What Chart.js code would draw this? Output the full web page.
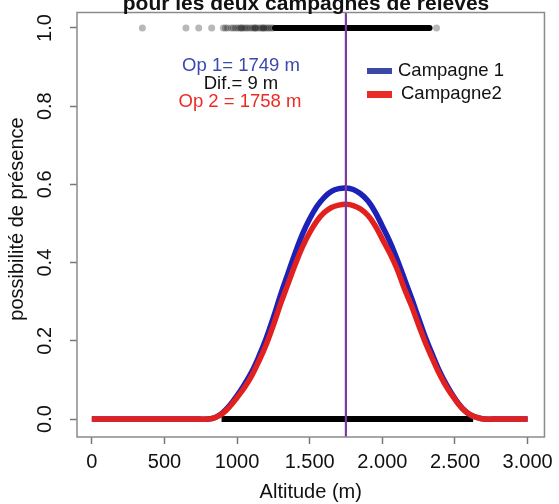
<!DOCTYPE html>
<html>
<head>
<meta charset="utf-8">
<script src="https://cdn.jsdelivr.net/npm/chart.js@4/dist/chart.umd.min.js"></script>
<style>
  body { margin: 0; background: #fff; }
  #wrap { width: 559px; height: 504px; }
</style>
</head>
<body>
<div id="wrap"><canvas id="c" width="559" height="504"></canvas></div>
<script>
// altitude grid for the two response curves (m)
const altitudes = [0, 700, 800, 850, 900, 950, 1000, 1050, 1100, 1150, 1200, 1250, 1300, 1350, 1400,
  1450, 1500, 1550, 1600, 1650, 1700, 1750, 1800, 1850, 1900, 1950, 2000, 2050, 2100,
  2150, 2200, 2250, 2300, 2350, 2400, 2450, 2500, 2550, 2600, 2650, 2700, 2800, 3000];
const campagne1 = [0, 0, 0, 0.004, 0.016, 0.035, 0.06, 0.088, 0.12, 0.16, 0.206, 0.26, 0.318, 0.372, 0.425,
  0.473, 0.512, 0.544, 0.567, 0.582, 0.589, 0.591, 0.587, 0.576, 0.558, 0.53, 0.493, 0.455, 0.41,
  0.36, 0.31, 0.257, 0.205, 0.16, 0.117, 0.082, 0.052, 0.028, 0.012, 0.004, 0, 0, 0];
const campagne2 = [0, 0, 0, 0.004, 0.014, 0.032, 0.055, 0.08, 0.11, 0.148, 0.19, 0.24, 0.295, 0.345, 0.395,
  0.44, 0.477, 0.507, 0.528, 0.541, 0.547, 0.549, 0.546, 0.537, 0.521, 0.495, 0.46, 0.425, 0.385,
  0.335, 0.29, 0.24, 0.192, 0.15, 0.11, 0.077, 0.05, 0.027, 0.012, 0.004, 0, 0, 0];

// observed presences (y = 1): scattered points and the dense run
const presenceDots = [348, 648, 736, 825, 905, 920, 935, 960, 975, 990, 1005, 1020, 1030, 1035, 1050,
  1062, 1075, 1090, 1105, 1118, 1125, 1130, 1145, 1160, 1172, 1180, 1185, 1198, 1210, 1222, 1235, 1248, 2373];
const presenceRun = [1261, 2325];
// observed absences (y = 0): dense run
const absenceRun = [893, 2625];

const optimum1 = 1749;
const optimum2 = 1758;

const xTickValues = [0, 500, 1000, 1500, 2000, 2500, 3000];
const xTickLabels = ["0", "500", "1000", "1.500", "2.000", "2.500", "3.000"];
const yTickValues = [0, 0.2, 0.4, 0.6, 0.8, 1.0];
const yTickLabels = ["0.0", "0.2", "0.4", "0.6", "0.8", "1.0"];

const FONT = "'Liberation Sans', Arial, sans-serif";

const extras = {
  id: "extras",
  afterDatasetsDraw(chart) {
    const { ctx, chartArea: a, scales: { x } } = chart;
    ctx.save();
    // optimum line
    ctx.beginPath();
    ctx.rect(a.left, a.top, a.right - a.left, a.bottom - a.top);
    ctx.clip();
    ctx.strokeStyle = "#7d3c9c";
    ctx.lineWidth = 2.2;
    const px = x.getPixelForValue(optimum1);
    ctx.beginPath();
    ctx.moveTo(px, a.top);
    ctx.lineTo(px, a.bottom);
    ctx.stroke();
    ctx.restore();
  },
  afterDraw(chart) {
    const { ctx, chartArea: a, scales: { y } } = chart;
    ctx.save();
    // box
    ctx.strokeStyle = "#8a8a8a";
    ctx.lineWidth = 1.5;
    ctx.strokeRect(a.left, a.top, a.right - a.left, a.bottom - a.top);

    // y tick labels, rotated
    ctx.fillStyle = "#111";
    ctx.font = "20px " + FONT;
    ctx.textAlign = "center";
    ctx.textBaseline = "middle";
    yTickValues.forEach((v, i) => {
      ctx.save();
      ctx.translate(45, y.getPixelForValue(v));
      ctx.rotate(-Math.PI / 2);
      ctx.fillText(yTickLabels[i], 0, 0);
      ctx.restore();
    });
    // y title
    ctx.save();
    ctx.translate(17, 219);
    ctx.rotate(-Math.PI / 2);
    ctx.font = "20px " + FONT;
    ctx.fillText("possibilité de présence", 0, 0);
    ctx.restore();

    // title, mostly cut off at the top
    ctx.font = "bold 21px " + FONT;
    ctx.textBaseline = "alphabetic";
    ctx.fillText("pour les deux campagnes de relevés", 306, 10);

    // optimum texts
    ctx.font = "18.5px " + FONT;
    ctx.textBaseline = "middle";
    ctx.fillStyle = "#3a48b0";
    ctx.fillText("Op 1= " + optimum1 + " m", 241, 66);
    ctx.fillStyle = "#111";
    ctx.fillText("Dif.= " + (optimum2 - optimum1) + " m", 241, 84);
    ctx.fillStyle = "#ee2a24";
    ctx.fillText("Op 2 = " + optimum2 + " m", 240, 101.5);

    // legend
    ctx.fillStyle = "#3a48a6";
    ctx.fillRect(367, 68, 25, 6);
    ctx.fillStyle = "#ea2b25";
    ctx.fillRect(367, 91, 25, 7);
    ctx.fillStyle = "#111";
    ctx.font = "18.5px " + FONT;
    ctx.textAlign = "left";
    ctx.fillText("Campagne 1", 398, 71);
    ctx.fillText("Campagne2", 401, 94);
    ctx.restore();
  }
};

new Chart(document.getElementById("c"), {
  type: "line",
  data: {
    datasets: [
      {
        label: "Campagne2",
        data: altitudes.map((a, i) => ({ x: a, y: campagne2[i] })),
        borderColor: "#e2201e",
        borderWidth: 5.5,
        pointRadius: 0,
        tension: 0.4,
        order: 0
      },
      {
        label: "Campagne 1",
        data: altitudes.map((a, i) => ({ x: a, y: campagne1[i] })),
        borderColor: "#1c22b8",
        borderWidth: 5.5,
        pointRadius: 0,
        tension: 0.4,
        order: 1
      },
      {
        label: "absences",
        data: absenceRun.map((a) => ({ x: a, y: 0 })),
        borderColor: "#000",
        borderWidth: 6,
        pointRadius: 0,
        order: 2
      },
      {
        label: "presences",
        data: presenceRun.map((a) => ({ x: a, y: 1 })),
        borderColor: "#000",
        borderWidth: 6,
        borderCapStyle: "round",
        pointRadius: 0,
        order: 3
      },
      {
        label: "presence points",
        data: presenceDots.map((a) => ({ x: a, y: 1 })),
        showLine: false,
        pointRadius: 3.5,
        pointBorderWidth: 0,
        pointBackgroundColor: "rgba(0,0,0,0.28)",
        order: 4
      }
    ]
  },
  options: {
    responsive: false,
    animation: false,
    layout: { padding: { left: 0, top: 12.5, right: 10, bottom: 0 } },
    plugins: { legend: { display: false }, tooltip: { enabled: false }, title: { display: false } },
    scales: {
      x: {
        type: "linear",
        min: -102,
        max: 3116,
        afterBuildTicks: (s) => { s.ticks = xTickValues.map((v) => ({ value: v })); },
        afterFit: (s) => { s.height = 67; },
        border: { display: false },
        grid: { drawOnChartArea: false, tickLength: 7, color: "#777", tickWidth: 1.5 },
        ticks: {
          color: "#111",
          font: { family: FONT, size: 20 },
          padding: 6,
          maxRotation: 0,
          autoSkip: false,
          callback: (v, i) => xTickLabels[i]
        },
        title: {
          display: true,
          text: "Altitude (m)",
          color: "#111",
          font: { family: FONT, size: 20 },
          padding: { top: 3, bottom: 0 }
        }
      },
      y: {
        type: "linear",
        min: -0.046,
        max: 1.0396,
        afterBuildTicks: (s) => { s.ticks = yTickValues.map((v) => ({ value: v })); },
        afterFit: (s) => { s.width = 77; },
        border: { display: false },
        grid: { drawOnChartArea: false, tickLength: 7, color: "#777", tickWidth: 1.5 },
        ticks: { display: false }
      }
    }
  },
  plugins: [extras]
});
</script>
</body>
</html>
